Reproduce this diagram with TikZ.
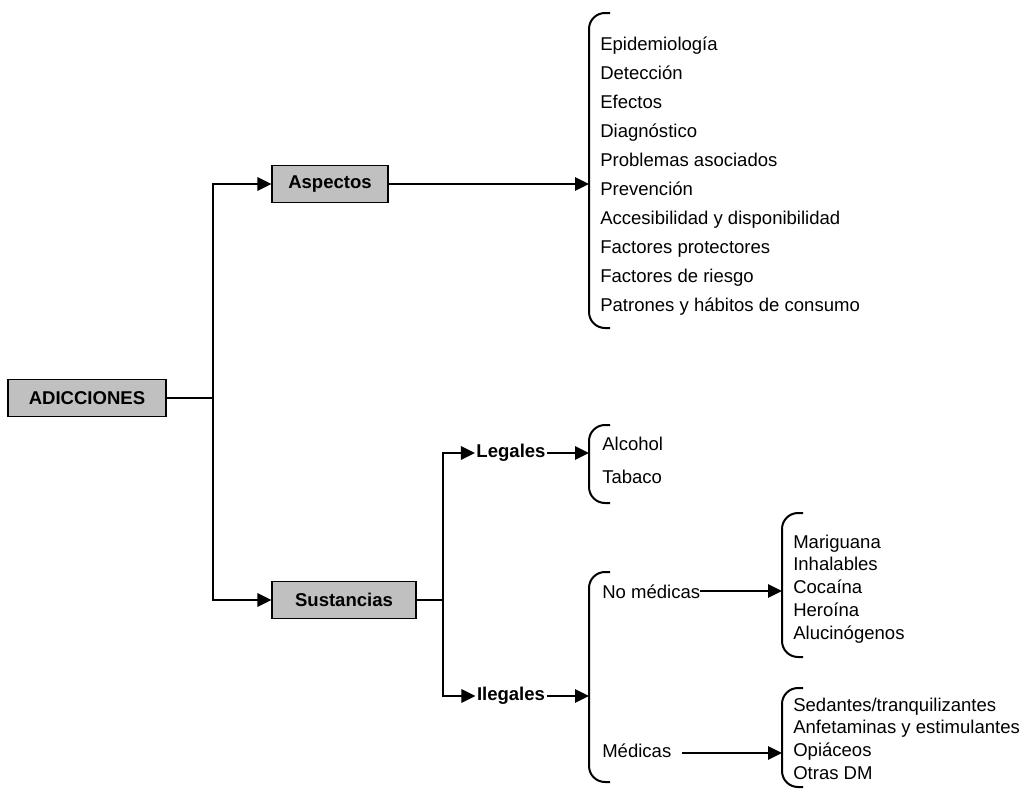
\documentclass[tikz,border=0pt]{standalone}
\usepackage{fontspec}
\setmainfont{Liberation Sans}
\usetikzlibrary{arrows.meta}
\definecolor{boxgray}{RGB}{192,192,192}
\newcommand{\diafont}{\fontsize{13.9}{16.7}\selectfont}

\begin{document}
\begin{tikzpicture}[x=0.75pt, y=-0.75pt,
    every node/.style={font=\diafont},
    box/.style={draw, line width=0.8pt, fill=boxgray, font=\diafont\bfseries,
        minimum height=27.5pt, inner sep=0pt},
    lbl/.style={font=\diafont\bfseries, inner sep=1pt},
    item/.style={anchor=base west, inner sep=0pt},
    conn/.style={line width=1.5pt},
    arr/.style={conn, -{Triangle[length=10.5pt,width=10pt]}},
    brace/.style={line width=1.5pt, rounded corners=12pt}]
    \useasboundingbox (0,0) rectangle (1030,789);

    % Main boxes
    \node[box, minimum width=118.5pt] (adic) at (87,398) {ADICCIONES};
    \node[box, minimum width=87pt] (asp) at (330,184) {Aspectos};
    \node[box, minimum width=108pt] (sus) at (344,600) {Sustancias};

    % First split
    \coordinate (split) at (213,398);
    \draw[conn] (adic) -- (split);
    \draw[arr] (split) |- (asp);
    \draw[arr] (split) |- (sus);

    % Aspectos list
    \coordinate (brAsp) at (589,184);
    \draw[arr] (asp) -- (brAsp);
    \draw[brace] (610,13) -- (589,13) -- (589,328) -- (610,328);
    \foreach \t [count=\i from 0] in {Epidemiología, Detección, Efectos,
        Diagnóstico, Problemas asociados, Prevención,
        Accesibilidad y disponibilidad, Factores protectores,
        Factores de riesgo, Patrones y hábitos de consumo}
        \node[item] (asp\i) at (600,{50+29.1*\i}) {\t};

    % Sustancias split
    \coordinate (split2) at (443,600);
    \draw[conn] (sus) -- (split2);
    \node[lbl] (leg) at (511,453) {Legales};
    \node[lbl] (ileg) at (511,696) {Ilegales};
    \draw[arr] (split2) |- (leg);
    \draw[arr] (split2) |- (ileg);

    % Legales
    \coordinate (brLeg) at (589,453);
    \draw[arr] (leg) -- (brLeg);
    \draw[brace] (610,425) -- (589,425) -- (589,503) -- (610,503);
    \node[item] (alc) at (602,450) {Alcohol};
    \node[item] (tab) at (602,483) {Tabaco};

    % Ilegales
    \coordinate (brIleg) at (589,696);
    \draw[arr] (ileg) -- (brIleg);
    \draw[brace] (610,572) -- (589,572) -- (589,782) -- (610,782);
    \node[item] (nomed) at (602,598) {No médicas};
    \node[item] (med) at (602,757) {Médicas};

    % No medicas list
    \coordinate (brNom) at (782,591);
    \draw[arr] (nomed.east |- brNom) -- (brNom);
    \draw[brace] (803,513) -- (782,513) -- (782,657) -- (803,657);
    \foreach \t [count=\i from 0] in {Mariguana, Inhalables, Cocaína,
        Heroína, Alucinógenos}
        \node[item] (nom\i) at (793,{548+22.75*\i}) {\t};

    % Medicas list
    \coordinate (brMed) at (782,753);
    \draw[arr] ([xshift=8pt]med.east |- brMed) -- (brMed);
    \draw[brace] (803,688) -- (782,688) -- (782,787) -- (803,787);
    \foreach \t [count=\i from 0] in {Sedantes/tranquilizantes,
        Anfetaminas y estimulantes, Opiáceos, Otras DM}
        \node[item] (med\i) at (793,{711+22.7*\i}) {\t};
\end{tikzpicture}
\end{document}
